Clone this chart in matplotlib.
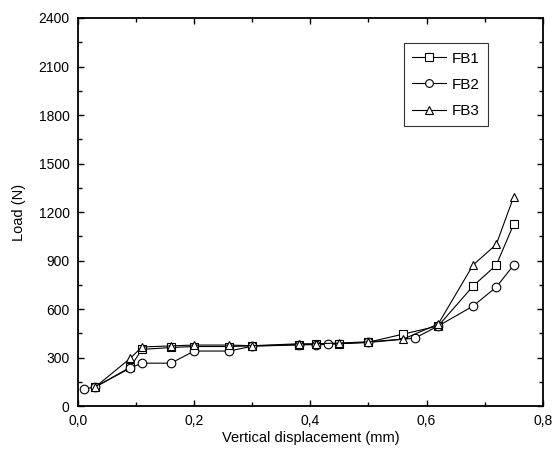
import numpy as np
import matplotlib.pyplot as plt
from matplotlib.ticker import MultipleLocator, FuncFormatter

plt.rcParams['font.family'] = ['Liberation Sans', 'DejaVu Sans']

# load-displacement readings for the three specimens
fb1_x = [0.03, 0.09, 0.11, 0.16, 0.20, 0.26, 0.30, 0.38, 0.41, 0.45, 0.50, 0.56, 0.62, 0.68, 0.72, 0.75]
fb1_y = [118, 240, 350, 362, 368, 368, 372, 380, 382, 385, 395, 445, 495, 742, 872, 1125]

fb2_x = [0.01, 0.03, 0.09, 0.11, 0.16, 0.20, 0.26, 0.30, 0.38, 0.41, 0.43, 0.50, 0.58, 0.62, 0.68, 0.72, 0.75]
fb2_y = [105, 118, 235, 265, 265, 340, 340, 370, 378, 380, 383, 393, 420, 495, 618, 736, 872]

fb3_x = [0.03, 0.09, 0.11, 0.16, 0.20, 0.26, 0.30, 0.38, 0.41, 0.45, 0.50, 0.56, 0.62, 0.68, 0.72, 0.75]
fb3_y = [118, 295, 365, 372, 377, 377, 373, 385, 385, 390, 397, 414, 507, 872, 1000, 1295]

fig = plt.figure(figsize=(5.55, 4.58), dpi=100)
ax = fig.add_axes([0.1405, 0.1135, 0.8375, 0.8472])

style = dict(color='black', lw=0.8, markerfacecolor='white', markeredgecolor='black',
             markeredgewidth=0.8, markersize=6.2)
ax.plot(fb1_x, fb1_y, marker='s', label='FB1', **style)
ax.plot(fb2_x, fb2_y, marker='o', label='FB2', **style)
ax.plot(fb3_x, fb3_y, marker='^', label='FB3', **style)

ax.set_xlim(0, 0.8)
ax.set_ylim(0, 2400)
ax.xaxis.set_major_locator(MultipleLocator(0.2))
ax.xaxis.set_minor_locator(MultipleLocator(0.1))
ax.yaxis.set_major_locator(MultipleLocator(300))
ax.yaxis.set_minor_locator(MultipleLocator(150))
ax.xaxis.set_major_formatter(FuncFormatter(lambda v, p: f'{v:.1f}'.replace('.', ',')))

ax.tick_params(which='both', direction='in', top=True, right=True, labelsize=10,
               width=1.0, colors='black')
ax.tick_params(which='major', length=4, pad=6)
ax.tick_params(which='minor', length=3)
for s in ax.spines.values():
    s.set_linewidth(1.3)

ax.set_xlabel('Vertical displacement (mm)', fontsize=10.5, labelpad=2)
ax.set_ylabel('Load (N)', fontsize=10.5, labelpad=9)

leg = ax.legend(loc='upper right', bbox_to_anchor=(0.882, 0.935), fontsize=11,
                fancybox=False, frameon=True, handlelength=2.2, borderpad=0.55,
                labelspacing=0.8, handletextpad=0.4, borderaxespad=0, markerscale=0.9)
leg.get_frame().set_edgecolor('black')
leg.get_frame().set_linewidth(0.8)

fig.savefig('out.png', dpi=100)
